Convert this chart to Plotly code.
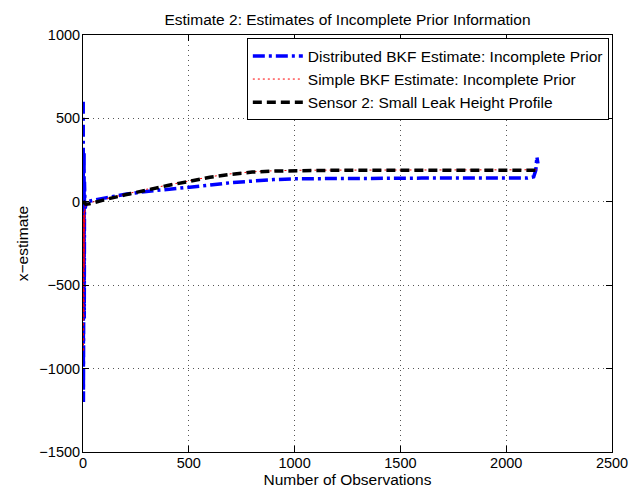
import plotly.graph_objects as go

# Observation indices (x) and estimates
obs = [1, 2, 3, 4, 5, 6, 7, 8, 10, 15, 20, 30, 50, 100, 200, 300, 400, 500,
       600, 700, 800, 900, 1000, 1200, 1400, 1600, 1800, 2000, 2100, 2130,
       2140, 2145, 2150]

distributed_bkf = [600, -1200, 450, -1000, 300, -700, 120, -300, -40, -10, 0,
                   3, 10, 22, 45, 62, 73, 86, 100, 115, 125, 133, 138, 141,
                   142, 142, 142, 142, 142, 150, 190, 270, 230]

simple_bkf = [-100, -900, -80, -700, -60, -400, -40, -150, -30, -15, -12,
              -8, 0, 15, 45, 75, 100, 125, 150, 168, 180, 186, 189, 190,
              190, 190, 190, 190, 190, 190, 192, 192, 192]

sensor2 = [5, 2, 0, -2, -4, -6, -8, -10, -12, -14, -14, -12, -6, 12, 42,
           72, 98, 122, 147, 165, 178, 184, 187, 189, 189, 189, 189, 189,
           189, 189, 189, 189, 189]

x_ticks = [0, 500, 1000, 1500, 2000, 2500]
y_ticks = [-1500, -1000, -500, 0, 500, 1000]
y_tick_text = ["\u22121500", "\u22121000", "\u2212500", "0", "500", "1000"]

FS = 15.5
TFS = 14.5

fig = go.Figure()
fig.add_trace(go.Scatter(
    x=obs, y=distributed_bkf, mode="lines",
    name="Distributed BKF Estimate: Incomplete Prior",
    line=dict(color="#0000ff", width=3.5, dash="12px,4px,3px,4px")))
fig.add_trace(go.Scatter(
    x=obs, y=simple_bkf, mode="lines",
    name="Simple BKF Estimate: Incomplete Prior",
    line=dict(color="#ff0000", width=1, dash="2px,3px")))
fig.add_trace(go.Scatter(
    x=obs, y=sensor2, mode="lines",
    name="Sensor 2: Small Leak Height Profile",
    line=dict(color="#000000", width=3.5, dash="9px,5px")))

axis_common = dict(
    showline=True, linecolor="black", linewidth=1, mirror="ticks",
    ticks="inside", ticklen=6, tickcolor="black",
    showgrid=True, gridcolor="#555555", griddash="1px,4px", gridwidth=1,
    zeroline=False, tickfont=dict(size=TFS, color="black"),
    automargin=False,
)

fig.update_layout(
    width=630, height=495,
    margin=dict(l=83, r=18, t=35, b=43),
    paper_bgcolor="white", plot_bgcolor="white",
    font=dict(family="Liberation Sans, Arial, sans-serif", size=FS, color="black"),
    title=dict(text="Estimate 2: Estimates of Incomplete Prior Information",
               x=0.5, xanchor="center", xref="paper", y=1 - 20 / 495,
               yanchor="middle", font=dict(size=FS)),
    xaxis=dict(range=[0, 2500], tickvals=x_ticks, ticklabelstandoff=-2,
               title=dict(text="Number of Observations", font=dict(size=FS),
                          standoff=2),
               **axis_common),
    yaxis=dict(range=[-1500, 1000], tickvals=y_ticks, ticktext=y_tick_text,
               ticklabelstandoff=-1,
               title=dict(text="x\u2212estimate", font=dict(size=FS),
                          standoff=6),
               **axis_common),
    legend=dict(x=0.994, y=0.992, xanchor="right", yanchor="top",
                bgcolor="white", bordercolor="black", borderwidth=1,
                font=dict(size=FS), tracegroupgap=0, itemwidth=50),
    showlegend=True,
)

fig.write_html(
    "out.html",
    config={"displayModeBar": False},
    post_script="document.body.style.margin='0';document.body.style.padding='0';",
)
